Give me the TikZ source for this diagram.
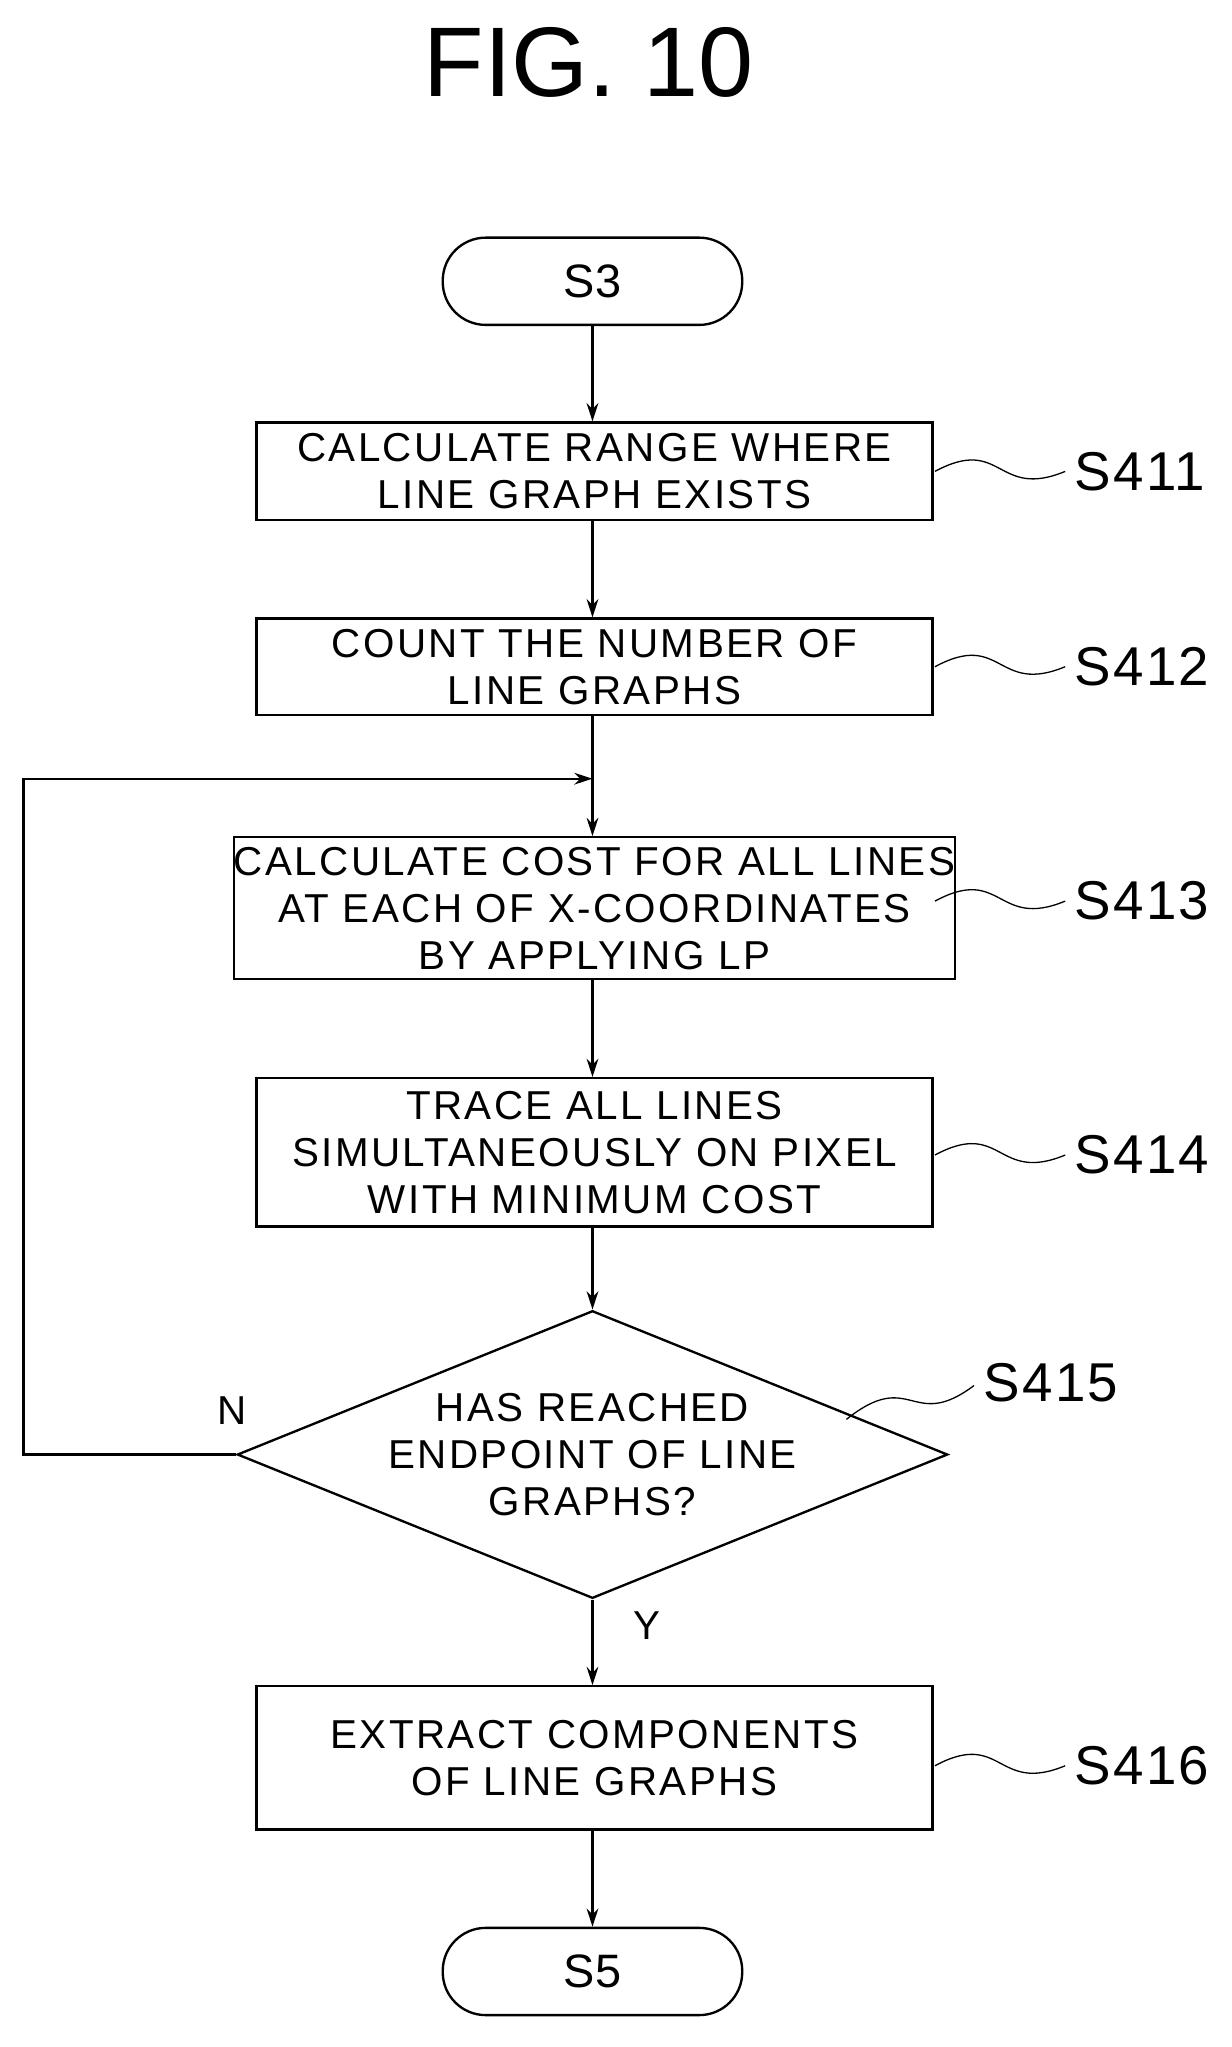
\documentclass[tikz,border=0pt]{standalone}
\usepackage{fontspec}
\setmainfont{Liberation Sans}
\usetikzlibrary{shapes.geometric,arrows.meta}
\begin{document}
\begin{tikzpicture}[x=1pt,y=-1pt,
  txt/.style={font=\fontsize{31}{36}\selectfont\addfontfeature{LetterSpace=6}, align=center},
  box/.style={draw, line width=1.8pt, minimum width=519pt, txt, inner sep=0pt},
  term/.style={draw, line width=1.8pt, rounded corners=33pt, minimum width=230pt, minimum height=67pt, font=\fontsize{36}{40}\selectfont, inner sep=0pt},
  lab/.style={font=\fontsize{42}{44}\selectfont\addfontfeature{LetterSpace=4}, anchor=west},
  arr/.style={line width=1.8pt, -{Stealth[length=14pt,width=9pt]}},
  sq/.style={line width=1pt}]
\useasboundingbox (0,0) rectangle (946,1572);
\node[font=\fontsize{76}{78}\selectfont] (title) at (452,48) {FIG. 10};
\node[term] (s3) at (455,216) {S3};
\node[box, minimum height=75pt] (b1) at (456.5,362) {CALCULATE RANGE WHERE\\LINE GRAPH EXISTS};
\node[box, minimum height=74pt] (b2) at (456.5,512) {COUNT THE NUMBER OF\\LINE GRAPHS};
\node[box, minimum height=109pt] (b3) at (456.5,697.5) {CALCULATE COST FOR ALL LINES\\AT EACH OF X-COORDINATES\\BY APPLYING LP};
\node[box, minimum height=114pt] (b4) at (456.5,885) {TRACE ALL LINES\\SIMULTANEOUSLY ON PIXEL\\WITH MINIMUM COST};
\node[draw, line width=1.8pt, diamond, aspect=2.47, minimum width=496pt, minimum height=201pt, inner sep=0pt, txt] (d) at (455,1117) {HAS REACHED\\ENDPOINT OF LINE\\GRAPHS?};
\node[box, minimum height=110pt] (b5) at (456.5,1350) {EXTRACT COMPONENTS\\OF LINE GRAPHS};
\node[term] (s5) at (455,1514) {S5};
\coordinate (m) at (455,598);
\draw[arr] (s3) -- (s3 |- b1.north);
\draw[arr] (b1.south -| s3) -- (b2.north -| s3);
\draw[line width=1.8pt] (b2.south -| s3) -- (m);
\draw[arr] (m) -- (b3.north -| s3);
\draw[arr] (b3.south -| s3) -- (b4.north -| s3);
\draw[arr] (b4.south -| s3) -- (d.north);
\draw[arr] (d.south) -- (b5.north -| s3);
\draw[arr] (b5.south -| s3) -- (s5);
\draw[arr] (d.west) -- (18,1117) -- (18,598) -- (m);
\node[txt] (n) at (178,1083) {N};
\node[txt] (y) at (497,1248) {Y};
\foreach \y/\t in {362/S411,512/S412,692/S413,887/S414,1356/S416}{
  \draw[sq] (718,\y) .. controls (770,\y-28) and (765,\y+22) .. (818,\y);
  \node[lab] at (822,\y) {\t};
}
\draw[sq] (650,1090) .. controls (700,1050) and (700,1100) .. (748,1064);
\node[lab] (l415) at (752,1062) {S415};
\end{tikzpicture}
\end{document}
